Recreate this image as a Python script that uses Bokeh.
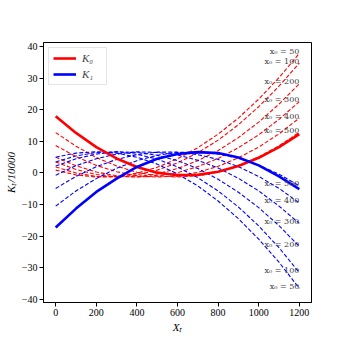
from bokeh.plotting import figure
from bokeh.models import Range1d, FixedTicker, ColumnDataSource
from bokeh.core.properties import value
from bokeh.embed import file_html
from bokeh.resources import INLINE

# ---- data ----
X = [0, 100, 200, 300, 400, 500, 600, 700, 800, 900, 1000, 1100, 1200]

K0 = [18.0, 12.7, 8.2, 4.6, 1.9, 0.1, -0.7, -0.6, 0.4, 2.2, 4.8, 8.2, 12.3]
K1 = [-17.3, -11.3, -6.0, -1.8, 1.9, 4.5, 6.0, 6.6, 6.3, 4.9, 2.4, -1.1, -5.1]

X0_VALUES = [50, 100, 200, 300, 400, 500]

RED_50 = [0.9, -0.6, -1.3, -1.1, -0.1, 1.8, 4.5, 8.0, 12.3, 17.4, 23.4, 30.2, 37.9]
RED_100 = [1.9, 0.0, -1.1, -1.3, -0.6, 0.9, 3.2, 6.4, 10.4, 15.3, 21.0, 27.5, 34.8]
RED_200 = [3.5, 1.1, -0.5, -1.2, -1.2, -0.3, 1.4, 3.9, 7.1, 11.2, 16.1, 21.8, 28.3]
RED_300 = [5.0, 2.3, 0.3, -0.9, -1.3, -1.0, 0.1, 2.0, 4.6, 8.0, 12.1, 17.0, 22.6]
RED_400 = [8.7, 5.2, 2.4, 0.4, -0.9, -1.3, -1.0, 0.2, 2.1, 4.8, 8.2, 12.4, 17.4]
RED_500 = [12.8, 8.5, 4.9, 2.2, 0.2, -0.9, -1.3, -0.9, 0.3, 2.3, 5.1, 8.6, 12.9]

BLUE_50 = [5.0, 6.3, 6.7, 6.3, 5.0, 2.8, -0.3, -4.1, -8.9, -14.5, -21.0, -28.3, -36.6]
BLUE_100 = [3.5, 5.4, 6.5, 6.7, 5.9, 4.4, 1.9, -1.5, -5.7, -10.8, -16.8, -23.7, -31.6]
BLUE_200 = [2.2, 4.5, 6.0, 6.7, 6.5, 5.6, 3.9, 1.4, -2.0, -6.1, -11.0, -16.7, -23.3]
BLUE_300 = [-0.7, 2.3, 4.5, 6.0, 6.7, 6.5, 5.7, 4.0, 1.6, -1.7, -5.7, -10.5, -16.0]
BLUE_400 = [-4.9, -1.1, 2.0, 4.3, 5.8, 6.6, 6.6, 5.8, 4.3, 2.0, -1.1, -4.9, -9.5]
BLUE_500 = [-10.5, -5.7, -1.8, 1.5, 3.9, 5.6, 6.5, 6.7, 6.0, 4.7, 2.5, -0.4, -4.1]

X_TICKS = [0, 200, 400, 600, 800, 1000, 1200]
Y_TICKS = [-40, -30, -20, -10, 0, 10, 20, 30, 40]

RED_SERIES = [RED_50, RED_100, RED_200, RED_300, RED_400, RED_500]
BLUE_SERIES = [BLUE_50, BLUE_100, BLUE_200, BLUE_300, BLUE_400, BLUE_500]

# ---- figure ----
p = figure(width=330, height=338, output_backend="svg", toolbar_location=None,
           x_range=Range1d(-60, 1260), y_range=Range1d(-41.07, 41.36),
           min_border_left=43, min_border_right=19, min_border_top=42,
           min_border_bottom=36)
p.grid.visible = False
p.outline_line_color = "black"
p.outline_line_alpha = 1.0
p.outline_line_width = 1
p.background_fill_color = "white"
p.border_fill_color = "white"

for s in RED_SERIES:
    p.line(X, s, line_color="#ff0000", line_width=1.1, line_dash="4 2")
for s in BLUE_SERIES:
    p.line(X, s, line_color="#0000ff", line_width=1.1, line_dash="4 2")

p.line(X, K0, line_color="#ff0000", line_width=2.6, legend_label="K₀")
p.line(X, K1, line_color="#0000ff", line_width=2.6, legend_label="K₁")

labels = ColumnDataSource(dict(
    x=[X[-1]] * 12,
    y=[s[-1] for s in RED_SERIES] + [s[-1] for s in BLUE_SERIES],
    t=["x₀ = %d" % v for v in X0_VALUES] * 2,
))
p.text(x="x", y="y", text="t", source=labels, text_align="right",
       text_baseline="middle", text_font=value("DejaVu Serif"),
       text_font_size="8px", text_color="#404040", y_offset=-2)

# ---- axes ----
p.xaxis.ticker = FixedTicker(ticks=X_TICKS)
p.yaxis.ticker = FixedTicker(ticks=Y_TICKS)
p.yaxis.major_label_overrides = {t: ("−%d" % -t if t < 0 else "%d" % t) for t in Y_TICKS}
for ax in (p.xaxis, p.yaxis):
    ax.axis_line_color = "black"
    ax.major_tick_line_color = "black"
    ax.minor_tick_line_color = None
    ax.major_tick_out = 4
    ax.major_tick_in = 0
    ax.major_label_standoff = 2
    ax.axis_label_standoff = 2
    ax.major_label_text_font = "Liberation Serif"
    ax.major_label_text_font_size = "10px"
    ax.major_label_text_color = "black"
    ax.axis_label_text_font = "Liberation Serif"
    ax.axis_label_text_font_size = "11px"
    ax.axis_label_text_font_style = "italic"
    ax.axis_label_text_color = "black"
p.xaxis.axis_label = "Xₜ"
p.yaxis.axis_label = "Kₜ/10000"

# ---- legend ----
lg = p.legend[0]
lg.location = "top_left"
lg.margin = 5
lg.padding = 4
lg.spacing = 4
lg.label_height = 12
lg.glyph_height = 12
lg.glyph_width = 23
lg.label_standoff = 6
lg.label_text_font = "Liberation Serif"
lg.label_text_font_style = "italic"
lg.label_text_font_size = "11px"
lg.border_line_color = "#cccccc"
lg.border_line_width = 1
lg.background_fill_alpha = 0.8

open("out.html", "w").write(file_html(p, INLINE))
